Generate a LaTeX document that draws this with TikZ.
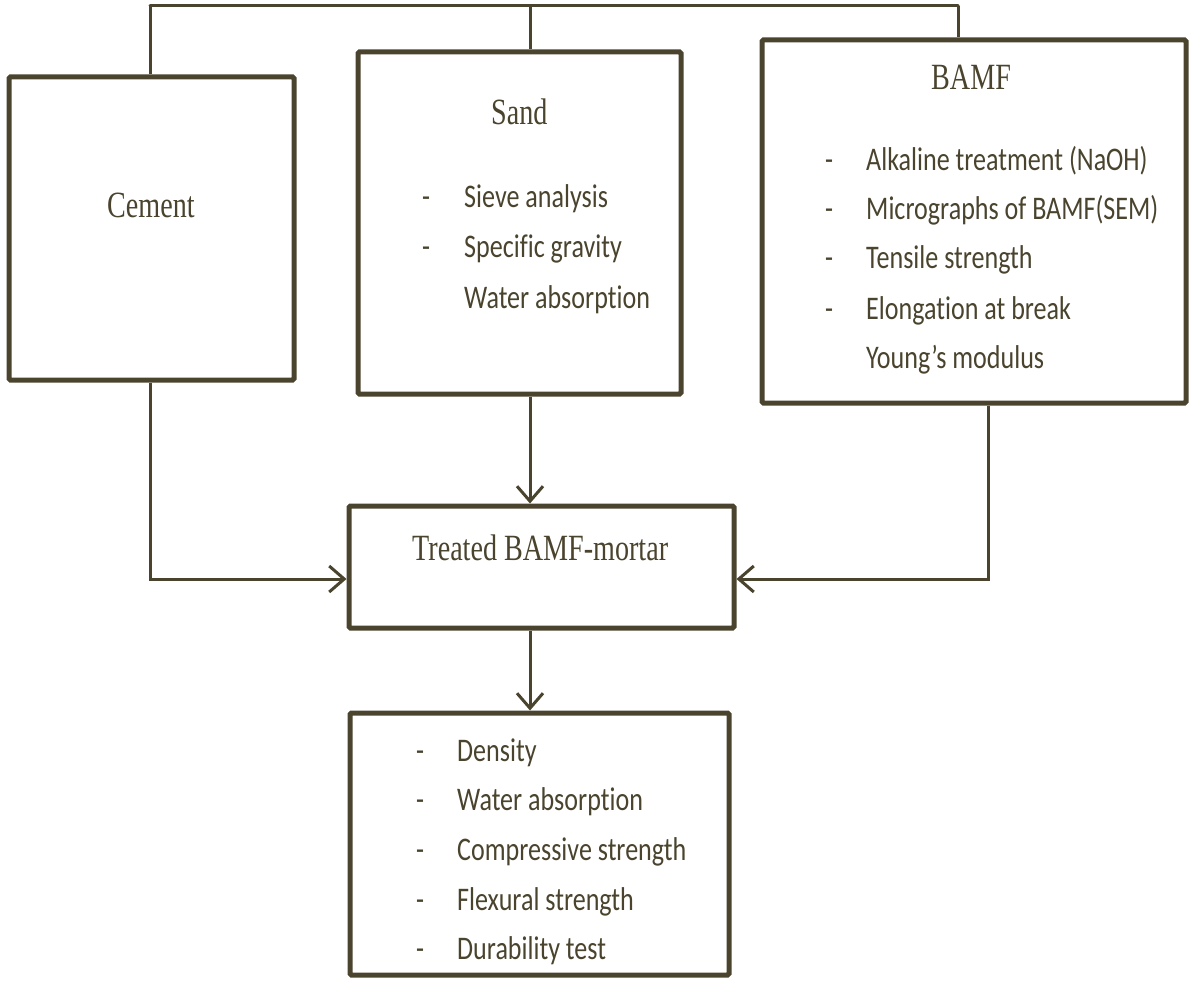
\documentclass[tikz,border=0pt]{standalone}
\usepackage{fontspec}
\usetikzlibrary{arrows.meta}
\newfontfamily\bodyfont[FakeStretch=0.79,Ligatures=NoCommon]{Carlito}
\newfontfamily\headfont[FakeStretch=0.76]{Liberation Serif}
\definecolor{ink}{RGB}{74,68,46}
\tikzset{
  box/.style={draw=ink, line width=5pt, rounded corners=1.5pt, inner sep=0pt, rectangle},
  conn/.style={draw=ink, line width=3pt},
  arr/.style={conn, -{Straight Barb[length=15pt,width=26pt,line width=3pt]}},
  head/.style={anchor=base west, inner sep=0pt, text=ink, font=\headfont\fontsize{37}{44}\selectfont},
  item/.style={anchor=base west, inner sep=0pt, text=ink, font=\bodyfont\fontsize{33}{40}\selectfont},
}
\begin{document}
\begin{tikzpicture}[x=1pt, y=-1pt]
\useasboundingbox (0,0) rectangle (1190,984);
% boxes (centre, size between stroke centres)
\node[box, minimum width=285pt, minimum height=303pt] (cement) at (151.5,228.5) {};
\node[box, minimum width=323pt, minimum height=342pt] (sand) at (519.5,223) {};
\node[box, minimum width=424pt, minimum height=363pt] (bamf) at (974,221.5) {};
\node[box, minimum width=385pt, minimum height=122pt] (treated) at (541.5,567) {};
\node[box, minimum width=379pt, minimum height=262pt] (results) at (539.5,844) {};
% headings
\node[head] (tcement) at (107,218) {Cement};
\node[head] (tsand) at (491,125) {Sand};
\node[head] (tbamf) at (931,90) {BAMF};
\node[head] (ttreated) at (412,560) {Treated BAMF-mortar};
% sand list
\node[item] (sd1) at (422,208) {-};
\node[item] (s1) at (464,208) {Sieve analysis};
\node[item] (sd2) at (422,258) {-};
\node[item] (s2) at (464,258) {Specific gravity};
\node[item] (s3) at (464,308) {Water absorption};
% bamf list
\node[item] (bd1) at (825,171) {-};
\node[item] (b1) at (866,171) {Alkaline treatment (NaOH)};
\node[item] (bd2) at (825,220) {-};
\node[item] (b2) at (866,220) {Micrographs of BAMF(SEM)};
\node[item] (bd3) at (825,269) {-};
\node[item] (b3) at (866,269) {Tensile strength};
\node[item] (bd4) at (825,319) {-};
\node[item] (b4) at (866,319) {Elongation at break};
\node[item] (b5) at (866,368) {Young’s modulus};
% results list
\node[item] (rd1) at (416,761) {-};
\node[item] (r1) at (457,761) {Density};
\node[item] (rd2) at (416,810) {-};
\node[item] (r2) at (457,810) {Water absorption};
\node[item] (rd3) at (416,860) {-};
\node[item] (r3) at (457,860) {Compressive strength};
\node[item] (rd4) at (416,910) {-};
\node[item] (r4) at (457,910) {Flexural strength};
\node[item] (rd5) at (416,959) {-};
\node[item] (r5) at (457,959) {Durability test};
% routing coordinates
\coordinate (t1) at (150,6);
\coordinate (t2) at (530,6);
\coordinate (t3) at (958,6);
\coordinate (j1) at (150,579);
\coordinate (j2) at (988,579);
% top connector
\draw[conn, line cap=round] (t1) -- (t3);
\draw[conn] (t1) -- (t1 |- cement.north);
\draw[conn] (t2) -- (t2 |- sand.north);
\draw[conn] (t3) -- (t3 |- bamf.north);
% arrows into treated
\draw[arr] (cement.south -| j1) |- (j1 -| treated.west);
\draw[arr] (sand.south -| t2) -- (treated.north -| t2);
\draw[arr] (bamf.south -| j2) |- (j2 -| treated.east);
\draw[arr] (treated.south -| t2) -- (results.north -| t2);
\end{tikzpicture}
\end{document}
